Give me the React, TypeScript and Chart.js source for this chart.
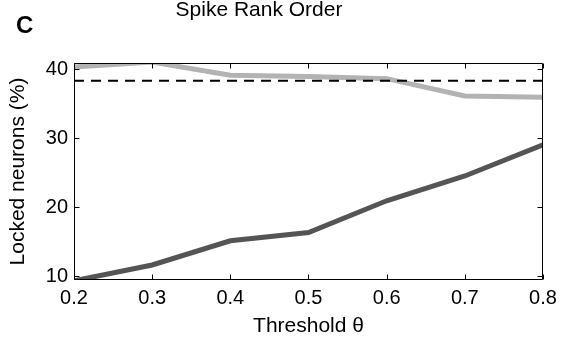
import React, { useEffect, useRef } from "react";
import { Chart, registerables } from "chart.js";

Chart.register(...registerables);

const thresholds = [0.2, 0.3, 0.4, 0.5, 0.6, 0.7, 0.8];
const lockedLight = [40.3, 41.0, 39.1, 38.9, 38.6, 36.1, 35.9];
const lockedDark = [9.3, 11.6, 15.1, 16.3, 20.9, 24.5, 29.0];
const chanceLevel = 38.3;
const yTicks = [10, 20, 30, 40];
const xTicks = [0.2, 0.3, 0.4, 0.5, 0.6, 0.7, 0.8];
const panelTitle = "Spike Rank Order";
const panelLetter = "C";
const xLabel = "Threshold θ";
const yLabel = "Locked neurons (%)";

const FONT = "'Liberation Sans', Arial, Helvetica, sans-serif";

const framePlugin = {
  id: "frame",
  afterDatasetsDraw(chart: any) {
    const { ctx, chartArea } = chart;
    const { left, right, top, bottom } = chartArea;
    const xs = chart.scales.x;
    const ys = chart.scales.y;
    ctx.save();
    ctx.strokeStyle = "#000";
    ctx.lineWidth = 1;
    const L = Math.round(left) + 0.5;
    const R = Math.round(right) - 0.5;
    const T = Math.round(top) + 0.5;
    const B = Math.round(bottom) - 0.5;
    ctx.beginPath();
    ctx.rect(L, T, R - L, B - T);
    ctx.stroke();
    const tl = 5;
    ctx.beginPath();
    xTicks.forEach((v) => {
      const px = Math.round(xs.getPixelForValue(v)) + 0.5;
      ctx.moveTo(px, B);
      ctx.lineTo(px, B - tl);
      ctx.moveTo(px, T);
      ctx.lineTo(px, T + tl);
    });
    yTicks.forEach((v) => {
      const py = Math.round(ys.getPixelForValue(v)) + 0.5;
      ctx.moveTo(L, py);
      ctx.lineTo(L + tl, py);
      ctx.moveTo(R, py);
      ctx.lineTo(R - tl, py);
    });
    ctx.stroke();
    ctx.restore();
  },
  afterDraw(chart: any) {
    const { ctx } = chart;
    ctx.save();
    ctx.fillStyle = "#000";
    ctx.textBaseline = "alphabetic";
    ctx.textAlign = "center";
    ctx.font = `21px ${FONT}`;
    ctx.fillText(panelTitle, 259, 16);
    ctx.textAlign = "left";
    ctx.font = `bold 24px ${FONT}`;
    ctx.fillText(panelLetter, 16, 33);
    ctx.restore();
  },
};

export default function App() {
  const ref = useRef<HTMLCanvasElement | null>(null);
  useEffect(() => {
    if (!ref.current) return;
    const chart = new Chart(ref.current, {
      type: "line",
      data: {
        datasets: [
          {
            label: "chance",
            data: [
              { x: xTicks[0], y: chanceLevel },
              { x: xTicks[xTicks.length - 1], y: chanceLevel },
            ],
            borderColor: "#000",
            borderWidth: 2,
            borderDash: [10, 7],
            pointRadius: 0,
            fill: false,
            clip: 0,
          },
          {
            label: "light",
            data: thresholds.map((x, i) => ({ x, y: lockedLight[i] })),
            borderColor: "#b3b3b3",
            borderWidth: 5,
            pointRadius: 0,
            fill: false,
            clip: 0,
          },
          {
            label: "dark",
            data: thresholds.map((x, i) => ({ x, y: lockedDark[i] })),
            borderColor: "#555555",
            borderWidth: 5,
            pointRadius: 0,
            fill: false,
            clip: 0,
          },
        ],
      },
      options: {
        animation: false,
        responsive: false,
        maintainAspectRatio: false,
        devicePixelRatio: 1,
        layout: { padding: { left: 0, right: 20, top: 63, bottom: 0 } },
        plugins: {
          legend: { display: false },
          tooltip: { enabled: false },
          title: { display: false },
        },
        scales: {
          x: {
            type: "linear",
            min: 0.2,
            max: 0.8,
            afterBuildTicks: (s: any) => {
              s.ticks = xTicks.map((v) => ({ value: v }));
            },
            afterFit: (s: any) => {
              s.height = 65;
            },
            grid: { display: false, drawTicks: false },
            border: { display: false },
            ticks: {
              color: "#000",
              font: { family: FONT, size: 20 },
              padding: 6,
              maxRotation: 0,
              autoSkip: false,
              callback: (v: any) => Number(v).toFixed(1),
            },
            title: {
              display: true,
              text: xLabel,
              color: "#000",
              font: { family: FONT, size: 21 },
              padding: { top: 0, bottom: 6 },
            },
          },
          y: {
            type: "linear",
            min: 9.42,
            max: 40.87,
            afterBuildTicks: (s: any) => {
              s.ticks = yTicks.map((v) => ({ value: v }));
            },
            afterFit: (s: any) => {
              s.width = 74;
            },
            grid: { display: false, drawTicks: false },
            border: { display: false },
            ticks: {
              color: "#000",
              font: { family: FONT, size: 20 },
              padding: 6,
              autoSkip: false,
              callback: (v: any) => String(v),
            },
            title: {
              display: true,
              text: yLabel,
              color: "#000",
              font: { family: FONT, size: 21 },
              padding: { top: 6, bottom: 0 },
            },
          },
        },
      },
      plugins: [framePlugin],
    } as any);
    return () => chart.destroy();
  }, []);
  return (
    <div
      style={{
        position: "fixed",
        left: 0,
        top: 0,
        width: 563,
        height: 345,
        background: "#fff",
      }}
    >
      <canvas ref={ref} width={563} height={345} style={{ display: "block" }} />
    </div>
  );
}
